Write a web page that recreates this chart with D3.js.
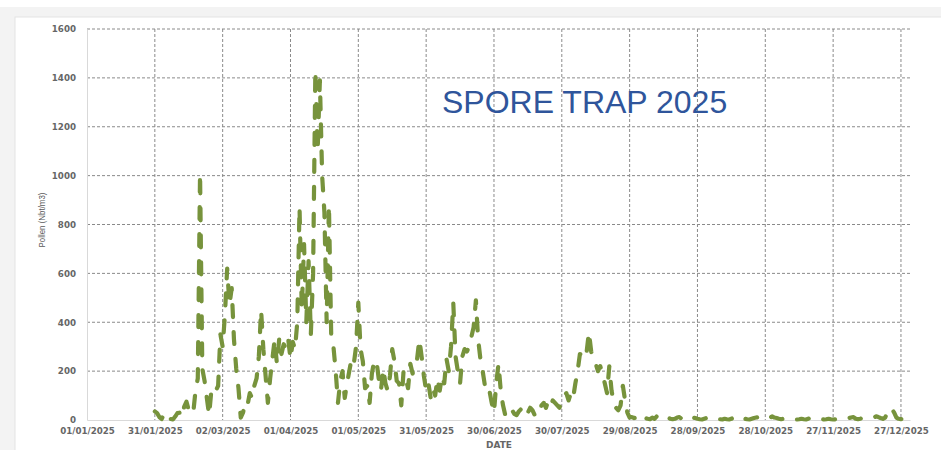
<!DOCTYPE html>
<meta charset="utf-8">
<script src="https://cdn.jsdelivr.net/npm/d3@7/dist/d3.min.js"></script>
<style>
  body { margin: 0; background: #fff; }
  svg { display: block; }
</style>
<body>
<div id="viz"></div>
<script>
// daily pollen counts, first value is 31/01/2025
const jan = [35];
const feb = [28,12,4,22,32,18,4,2,14,28,30,12,55,75,40,25,30,120,170,1010,210,160,90,20,120,135,120,140];
const mar = [350,300,430,620,470,540,330,210,130,10,30,70,60,110,90,140,170,260,450,290,180,70,170,250,330,230,330,270,310,290,330];
const apr = [250,320,290,400,870,450,720,400,650,350,600,1430,1100,1390,1000,850,400,880,350,300,200,70,160,200,90,150,200,250,230,300];
const may = [480,290,240,130,140,70,190,240,245,170,120,210,150,120,180,290,240,160,150,60,200,170,130,230,190,220,250,330,260,180,120];
const jun = [150,90,130,100,170,120,180,150,250,200,300,480,260,200,150,260,290,280,300,340,380,490,330,250,200,140,150,120,70,30];
const jul = [150,230,120,60,20,10,30,40,25,20,35,45,30,15,30,50,40,20,30,25,60,70,50,80,60,80,70,60,50,90,100];
const aug = [110,80,110,90,150,200,270,265,250,280,360,280,250,230,200,220,190,150,110,220,120,70,50,40,60,140,80,30,10,12,8];
const sep = [10,5,12,20,8,5,3,10,5,15,8,5,10,15,10,5,3,5,10,12,5,2,5,8,15,10,8,5,3,2];
const oct = [5,8,10,5,3,2,5,3,2,5,3,2,5,10,8,5,12,8,5,3,2,5,8,10,12,10,5,3,5,8,15];
const nov = [10,8,5,3,5,2,3,2,5,3,2,3,5,3,2,5,8,10,12,8,5,3,2,3,5,3,2,3,2,5];
const dec = [3,2,5,8,10,12,5,3,5,8,10,8,10,12,10,15,12,8,5,10,30,50,45,30,10,5,3,8,10,5,3];

const firstDay = "2025-01-31";
const tickDays = [0,30,60,90,120,150,180,210,240,270,300,330,360]; // offsets from 01/01/2025
const yTicks = [0,200,400,600,800,1000,1200,1400,1600];

const width = 941, height = 450;
const margin = { left: 87, right: 910, top: 29, bottom: 420 };

const start = new Date(Date.UTC(2025, 0, 1));
const first = new Date(firstDay + "T00:00:00Z");
const values = [].concat(jan, feb, mar, apr, may, jun, jul, aug, sep, oct, nov, dec);
const data = values.map((v, i) => ({ date: d3.utcDay.offset(first, i), value: v }));

const x = d3.scaleUtc()
  .domain([start, new Date(Date.UTC(2025, 11, 31))])
  .range([margin.left, margin.right]);
const y = d3.scaleLinear().domain([0, 1600]).range([margin.bottom, margin.top]);

const svg = d3.select("#viz").append("svg")
  .attr("width", width)
  .attr("height", height);

// frame
svg.append("rect").attr("x", 0).attr("y", 7).attr("width", width).attr("height", height - 7).attr("fill", "#f3f3f3");
svg.append("rect").attr("x", 15).attr("y", 17).attr("width", width).attr("height", height)
  .attr("fill", "#fff").attr("stroke", "#e3e3e3");

// horizontal grid
svg.append("g")
  .selectAll("line")
  .data(yTicks.filter(d => d > 0))
  .join("line")
  .attr("x1", margin.left).attr("x2", margin.right)
  .attr("y1", d => y(d)).attr("y2", d => y(d))
  .attr("stroke", "#8a8a8a")
  .attr("stroke-dasharray", "3,2");

// vertical grid
const tickDates = tickDays.map(d => d3.utcDay.offset(start, d));
svg.append("g")
  .selectAll("line")
  .data(tickDates.slice(1))
  .join("line")
  .attr("x1", d => x(d)).attr("x2", d => x(d))
  .attr("y1", margin.top).attr("y2", margin.bottom)
  .attr("stroke", "#8a8a8a")
  .attr("stroke-dasharray", "3,2");

// axes
const xAxis = d3.axisBottom(x)
  .tickValues(tickDates)
  .tickFormat(d3.utcFormat("%d/%m/%Y"))
  .tickSize(0)
  .tickPadding(8);
const gx = svg.append("g").attr("transform", `translate(0,${margin.bottom})`).call(xAxis);
gx.select(".domain").attr("stroke", "#d9d9d9");
gx.selectAll("text")
  .attr("font-family", "DejaVu Sans")
  .attr("font-weight", "bold")
  .attr("font-size", "8.7px")
  .attr("fill", "#666");

const yAxis = d3.axisLeft(y).tickValues(yTicks).tickFormat(d3.format("d")).tickSize(0).tickPadding(11);
const gy = svg.append("g").attr("transform", `translate(${margin.left},0)`).call(yAxis);
gy.select(".domain").attr("stroke", "#d9d9d9");
gy.selectAll("text")
  .attr("font-family", "DejaVu Sans")
  .attr("font-weight", "bold")
  .attr("font-size", "8.7px")
  .attr("fill", "#666");

// the series
const line = d3.line()
  .x(d => x(d.date))
  .y(d => y(d.value));

svg.append("path")
  .datum(data)
  .attr("d", line)
  .attr("fill", "none")
  .attr("stroke", "#77933c")
  .attr("stroke-width", 4.2)
  .attr("stroke-linecap", "round")
  .attr("stroke-linejoin", "round")
  .attr("stroke-dasharray", "12,15");

// labels
svg.append("text")
  .attr("x", 499).attr("y", 448)
  .attr("text-anchor", "middle")
  .attr("font-family", "DejaVu Sans")
  .attr("font-weight", "bold")
  .attr("font-size", "9px")
  .attr("fill", "#666")
  .text("DATE");

svg.append("text")
  .attr("transform", "translate(45,220) rotate(-90)")
  .attr("text-anchor", "middle")
  .attr("font-family", "'Liberation Sans', Arial, sans-serif")
  .attr("font-size", "9.5px")
  .attr("textLength", 55)
  .attr("lengthAdjust", "spacingAndGlyphs")
  .attr("fill", "#595959")
  .text("Pollen (Nbt/m3)");

svg.append("text")
  .attr("x", 442).attr("y", 113)
  .attr("font-family", "'Liberation Sans', Arial, sans-serif")
  .attr("font-size", "32px")
  .attr("fill", "#2f559b")
  .text("SPORE TRAP 2025");
</script>
</body>
